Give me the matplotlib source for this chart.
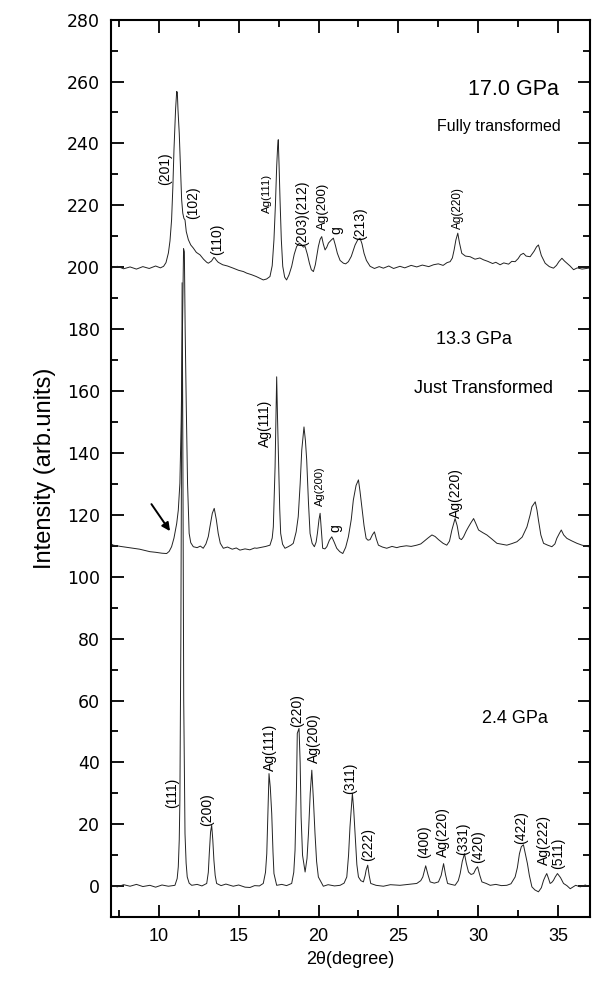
import numpy as np
import matplotlib
matplotlib.use('Agg')
import matplotlib.pyplot as plt
from matplotlib.ticker import MultipleLocator

plt.rcParams['font.family'] = ['Liberation Sans', 'DejaVu Sans']

# --- data: (2theta, intensity) ---
p170 = [(7.0, 199.7), (7.4, 200.3), (7.8, 199.5), (8.2, 200.1), (8.6, 199.4), (9.0, 200.2),
        (9.4, 199.6), (9.8, 200.4), (10.1, 199.8), (10.3, 200.3), (10.45, 201.5), (10.6, 204.6),
        (10.7, 208.5), (10.8, 215.3), (10.88, 226), (10.95, 238), (11.05, 251), (11.12, 256.8),
        (11.16, 256.5), (11.2, 251), (11.28, 243.3), (11.36, 232), (11.43, 221.8), (11.5, 217.5),
        (11.57, 215.8), (11.64, 215.3), (11.72, 211.5), (11.85, 208.9), (12.0, 207.2), (12.16, 206.2),
        (12.35, 204.8), (12.58, 204.0), (12.8, 202.6), (13.0, 201.6), (13.1, 201.3), (13.3, 202.0),
        (13.45, 203.2), (13.52, 202.9), (13.6, 202.3), (13.72, 201.6), (13.83, 201.3), (14.0, 200.8),
        (14.3, 200.4), (14.66, 199.7), (15.0, 199.0), (15.3, 198.6), (15.5, 198.1), (15.8, 197.6),
        (16.1, 197.0), (16.3, 196.5), (16.54, 195.9), (16.75, 196.2), (16.96, 197.0), (17.1, 200.5),
        (17.21, 208.9), (17.3, 220), (17.38, 232.5), (17.44, 239), (17.48, 241.2), (17.53, 233),
        (17.59, 221.8), (17.67, 209), (17.76, 200.3), (17.88, 196.8), (18.0, 195.9), (18.15, 197.5),
        (18.32, 200.3), (18.48, 204.2), (18.63, 206.7), (18.8, 207.8), (18.95, 207.2), (19.05, 206.5),
        (19.16, 206.7), (19.3, 204.2), (19.43, 201.3), (19.55, 199.2), (19.68, 198.6), (19.8, 200.8),
        (19.9, 204.0), (19.99, 206.7), (20.1, 209.0), (20.2, 209.9), (20.3, 207.5), (20.41, 205.6),
        (20.52, 206.5), (20.62, 207.8), (20.8, 208.8), (20.93, 209.4), (21.05, 207.2), (21.18, 204.5),
        (21.35, 202.2), (21.56, 201.3), (21.7, 201.1), (21.87, 201.8), (22.05, 203.5), (22.29, 207.2),
        (22.45, 208.8), (22.6, 209.4), (22.72, 207.6), (22.85, 204.5), (23.0, 202.2), (23.23, 200.3),
        (23.5, 199.6), (23.8, 200.2), (24.06, 199.7), (24.4, 200.4), (24.7, 199.6), (25.1, 200.3),
        (25.4, 199.8), (25.8, 200.6), (26.15, 200.1), (26.5, 200.7), (26.9, 200.2), (27.2, 200.8),
        (27.5, 201.1), (27.8, 200.6), (28.05, 201.5), (28.24, 201.8), (28.38, 203.0), (28.49, 205.6),
        (28.6, 208.8), (28.72, 211.0), (28.82, 208.0), (28.97, 204.5), (29.2, 203.6), (29.49, 203.4),
        (29.8, 202.6), (30.1, 203.0), (30.33, 202.4), (30.6, 201.9), (30.9, 201.2), (31.1, 201.6),
        (31.37, 200.8), (31.6, 201.4), (31.9, 201.0), (32.1, 201.9), (32.31, 201.8), (32.5, 202.8),
        (32.65, 204.0), (32.83, 204.5), (33.0, 203.6), (33.25, 203.4), (33.5, 205.2), (33.65, 206.6),
        (33.77, 207.2), (33.95, 203.8), (34.19, 201.3), (34.45, 200.2), (34.71, 199.7), (34.9, 200.6),
        (35.05, 201.8), (35.24, 202.9), (35.4, 202.0), (35.55, 201.3), (35.75, 200.4), (35.97, 199.2),
        (36.2, 199.8), (36.5, 199.4), (36.9, 199.7)]

p133 = [(7.0, 110.6), (7.15, 110.2), (7.6, 109.8), (8.0, 109.5), (8.4, 109.2), (8.8, 108.9),
        (9.2, 108.4), (9.44, 108.1), (9.8, 107.9), (10.2, 107.6), (10.49, 107.5), (10.65, 108.2),
        (10.8, 109.7), (10.95, 112.5), (11.12, 117.2), (11.22, 121.5), (11.32, 130.2), (11.4, 150),
        (11.48, 180), (11.55, 206), (11.6, 205), (11.65, 180), (11.72, 155), (11.8, 130), (11.9, 114),
        (12.0, 111), (12.16, 109.7), (12.4, 109.4), (12.6, 109.9), (12.78, 109.2), (12.95, 110.6),
        (13.1, 113.0), (13.2, 116.1), (13.35, 120.5), (13.47, 122.1), (13.6, 118.5), (13.72, 114),
        (13.85, 110.8), (14.04, 109.2), (14.3, 109.6), (14.6, 108.9), (14.85, 109.3), (15.08, 108.6),
        (15.4, 109.0), (15.7, 108.7), (16.0, 109.3), (16.13, 109.2), (16.4, 109.5), (16.7, 109.8),
        (16.96, 110.2), (17.1, 112.5), (17.17, 116.1), (17.28, 135.5), (17.34, 152), (17.38, 164.6),
        (17.43, 152), (17.51, 135.5), (17.57, 122), (17.63, 114), (17.75, 110.5), (17.9, 109.2),
        (18.1, 109.7), (18.3, 110.3), (18.42, 110.8), (18.6, 114.5), (18.73, 119.4), (18.85, 130),
        (18.95, 140.9), (19.09, 148.4), (19.18, 144), (19.26, 137.7), (19.37, 124), (19.47, 114),
        (19.6, 110.8), (19.74, 109.7), (19.85, 111.2), (19.93, 114), (20.03, 118.5), (20.1, 120.5),
        (20.18, 115), (20.26, 109.2), (20.4, 109.0), (20.52, 109.7), (20.68, 111.8), (20.83, 112.9),
        (20.98, 111.2), (21.14, 109.2), (21.33, 108.1), (21.52, 107.5), (21.7, 109.5), (21.87, 112.9),
        (22.05, 118.5), (22.18, 124.8), (22.35, 129.5), (22.5, 131.3), (22.6, 127.5), (22.71, 122.6),
        (22.85, 116.5), (22.98, 112.4), (23.1, 111.8), (23.23, 112.0), (23.38, 113.6), (23.5, 114.5),
        (23.62, 112.2), (23.75, 110.2), (24.0, 109.6), (24.27, 109.2), (24.6, 109.8), (24.9, 109.4),
        (25.1, 109.7), (25.5, 110.0), (25.8, 109.8), (26.15, 110.2), (26.4, 110.6), (26.57, 111.3),
        (26.85, 112.5), (27.1, 113.5), (27.3, 113.0), (27.51, 112.0), (27.8, 110.8), (28.03, 110.2),
        (28.2, 111.5), (28.35, 115.1), (28.55, 118.8), (28.68, 116.5), (28.82, 112.4), (28.95, 112.0),
        (29.08, 112.9), (29.25, 114.8), (29.39, 116.1), (29.55, 117.5), (29.71, 118.8), (29.85, 117.2),
        (30.02, 115.1), (30.3, 114.2), (30.54, 113.5), (30.85, 112.2), (31.17, 110.8), (31.5, 110.5),
        (31.79, 110.2), (32.1, 110.7), (32.42, 111.3), (32.75, 112.8), (33.05, 116.1), (33.25, 120.0),
        (33.36, 122.6), (33.57, 124.2), (33.68, 121.5), (33.77, 118.3), (33.92, 113.5), (34.09, 110.8),
        (34.35, 110.2), (34.61, 109.7), (34.8, 110.6), (34.92, 112.4), (35.08, 114.0), (35.2, 115.1),
        (35.35, 113.5), (35.55, 112.4), (35.85, 111.6), (36.18, 110.8), (36.5, 110.2), (36.9, 109.7)]

p24 = [(7.0, 0.4), (7.4, -0.2), (7.8, 0.5), (8.2, 0.0), (8.6, 0.6), (9.0, -0.1), (9.44, 0.3),
       (9.8, -0.3), (10.2, 0.4), (10.6, 0.0), (11.01, 0.3), (11.15, 2.5), (11.22, 6.3), (11.28, 15),
       (11.32, 27.8), (11.38, 80), (11.43, 150), (11.46, 195), (11.5, 150), (11.56, 60), (11.64, 17.0),
       (11.71, 7.5), (11.78, 3.0), (11.9, 1.0), (12.06, 0.3), (12.4, 0.6), (12.7, 0.1), (13.0, 0.9),
       (13.1, 4.5), (13.16, 10.5), (13.24, 17.5), (13.31, 19.7), (13.38, 15), (13.45, 8.4),
       (13.53, 3.5), (13.62, 0.9), (13.9, 0.2), (14.2, 0.7), (14.66, 0.0), (15.0, 0.4), (15.4, -0.3),
       (15.71, -0.4), (16.0, 0.2), (16.3, 0.1), (16.54, 0.9), (16.68, 4.5), (16.76, 10.5), (16.84, 25),
       (16.9, 36.4), (16.98, 32), (17.07, 23.5), (17.15, 11), (17.21, 4.1), (17.38, 0.3), (17.7, 0.6),
       (18.0, 0.2), (18.32, 0.9), (18.45, 4.5), (18.53, 11.6), (18.62, 32), (18.67, 49.4), (18.78, 51.0),
       (18.85, 40), (18.91, 22.4), (19.0, 10), (19.16, 4.6), (19.28, 9), (19.37, 17), (19.48, 30),
       (19.58, 37.5), (19.68, 28), (19.78, 17), (19.88, 8), (19.99, 3), (20.3, 0.0), (20.6, 0.5),
       (21.0, 0.1), (21.35, 0.3), (21.6, 1.0), (21.77, 3), (21.88, 10), (21.97, 19.2), (22.12, 30),
       (22.2, 25), (22.29, 17), (22.4, 7), (22.5, 3), (22.65, 1.8), (22.81, 1.4), (22.92, 3.5),
       (22.98, 5.2), (23.08, 6.8), (23.17, 3.5), (23.27, 0.9), (23.6, 0.3), (24.06, 0.0), (24.5, 0.5),
       (25.1, 0.3), (25.6, 0.6), (26.15, 0.9), (26.4, 1.8), (26.53, 3), (26.71, 6.6), (26.85, 3.8),
       (26.99, 1.4), (27.25, 1.0), (27.51, 1.4), (27.68, 3.5), (27.83, 7.3), (27.95, 3.8), (28.08, 0.9),
       (28.3, 0.6), (28.55, 0.3), (28.75, 1.8), (28.87, 4.1), (29.0, 8), (29.14, 10.5), (29.25, 7.5),
       (29.39, 4.6), (29.55, 3.8), (29.71, 4.1), (29.85, 5.6), (29.96, 6.3), (30.1, 3.5), (30.23, 1.4),
       (30.5, 0.9), (30.75, 0.3), (31.1, 0.6), (31.45, 0.2), (31.79, 0.3), (32.05, 0.8), (32.31, 3),
       (32.45, 6), (32.58, 10.5), (32.7, 12.8), (32.83, 13.4), (32.95, 10.5), (33.08, 7.3), (33.2, 3.5),
       (33.36, -0.2), (33.55, -1.2), (33.77, -1.8), (33.95, -0.5), (34.09, 1.9), (34.2, 3.2),
       (34.29, 4.1), (34.4, 2.5), (34.5, 0.9), (34.6, 1.2), (34.71, 1.9), (34.82, 3.0), (34.96, 4.1),
       (35.15, 2.8), (35.34, 0.9), (35.55, 0.2), (35.76, -0.8), (36.1, 0.3), (36.39, -0.2),
       (36.7, 0.4), (36.9, 0.0)]

# peak labels (text only)
labels_170 = ['(201)', '(102)', '(110)', 'Ag(111)', '(203)(212)', 'Ag(200)', 'g', '(213)', 'Ag(220)']
labels_133 = ['Ag(111)', 'Ag(200)', 'g', 'Ag(220)']
labels_24 = ['(111)', '(200)', 'Ag(111)', '(220)', 'Ag(200)', '(311)', '(222)', '(400)',
             'Ag(220)', '(331)', '(420)', '(422)', 'Ag(222)', '(511)']

# layout: (x, y, fontsize) for each label above
pos_170 = [(10.38, 232, 10), (12.16, 220.7, 10), (13.66, 208.9, 10), (16.76, 224, 8.2),
           (18.99, 217.5, 10), (20.3, 219.6, 9.5), (21.14, 212, 10), (22.6, 214.2, 10), (28.7, 219.1, 8.5)]
pos_133 = [(16.65, 149.6, 10), (20.1, 129.1, 8), (21.04, 115.6, 10), (28.62, 126.9, 10)]
pos_24 = [(10.86, 30.2, 10), (13.0, 24.6, 10), (16.96, 45, 10), (18.63, 56.9, 10), (19.74, 47.8, 10),
          (22.0, 34.8, 10), (23.12, 13.6, 10), (26.6, 14.3, 10), (27.78, 17.6, 10), (29.08, 15.4, 10),
          (30.0, 12.7, 10), (32.7, 19.1, 10), (34.1, 15.0, 10), (35.02, 10.6, 10)]


fig = plt.figure(figsize=(5.93, 9.82), dpi=100)
fig.set_facecolor('white')
ax = fig.add_axes([0.187, 0.066, 0.808, 0.914])

for pts in (p170, p133, p24):
    xy = np.array(pts)
    ax.plot(xy[:, 0], xy[:, 1], color='#222222', lw=0.7)

for labels, pos in ((labels_170, pos_170), (labels_133, pos_133), (labels_24, pos_24)):
    for t, (x, y, fs) in zip(labels, pos):
        ax.text(x, y, t, rotation=90, ha='center', va='center', fontsize=fs)

ax.text(32.2, 257.4, '17.0 GPa', ha='center', va='center', fontsize=15.5)
ax.text(31.27, 245.5, 'Fully transformed', ha='center', va='center', fontsize=11.5)
ax.text(29.7, 176.5, '13.3 GPa', ha='center', va='center', fontsize=13)
ax.text(30.33, 160.9, 'Just Transformed', ha='center', va='center', fontsize=13)
ax.text(32.3, 54.2, '2.4 GPa', ha='center', va='center', fontsize=13)

ax.annotate('', xy=(10.8, 114), xytext=(9.44, 124.2),
            arrowprops=dict(arrowstyle='-|>', color='black', lw=1.4, mutation_scale=12))

ax.set_xlim(7, 37)
ax.set_ylim(-10, 280)
ax.xaxis.set_major_locator(MultipleLocator(5))
ax.xaxis.set_minor_locator(MultipleLocator(2.5))
ax.yaxis.set_major_locator(MultipleLocator(20))
ax.yaxis.set_minor_locator(MultipleLocator(10))
ax.tick_params(which='both', direction='in', top=True, right=True, width=1.3)
ax.tick_params(which='major', length=9)
ax.tick_params(which='minor', length=5)
ax.tick_params(axis='x', labelsize=13, pad=8)
ax.tick_params(axis='y', labelsize=12.5, pad=8)
for lab in ax.get_yticklabels():
    lab.set_family('DejaVu Sans')
for sp in ax.spines.values():
    sp.set_linewidth(1.5)

ax.set_xlabel('2θ(degree)', fontsize=13, labelpad=4)
ax.set_ylabel('Intensity (arb.units)', fontsize=17, labelpad=8)

fig.savefig('out.png', dpi=100, facecolor='white')
